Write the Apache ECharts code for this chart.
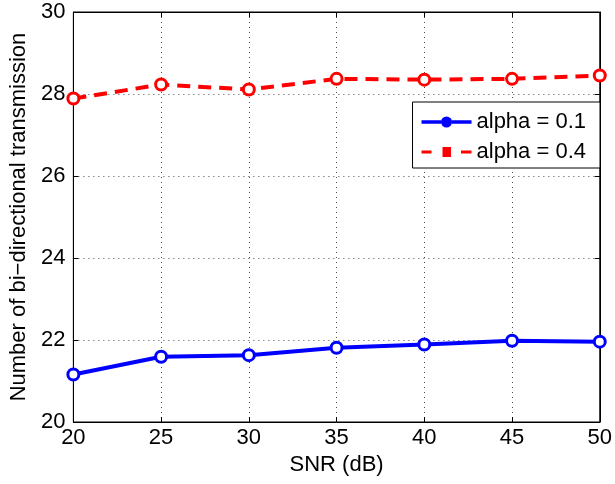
<!DOCTYPE html>
<html><head><meta charset="utf-8">
<script src="https://cdn.jsdelivr.net/npm/echarts@6/dist/echarts.min.js"></script>
<style>html,body{margin:0;padding:0;background:#fff}#c{width:615px;height:484px}</style>
</head><body><div id="c"></div>
<script>
const snr = [20, 25, 30, 35, 40, 45, 50];
const alpha01 = [21.16, 21.59, 21.63, 21.81, 21.89, 21.98, 21.96];
const alpha04 = [27.89, 28.23, 28.11, 28.37, 28.35, 28.37, 28.45];
const seriesNames = ['alpha = 0.1', 'alpha = 0.4'];
const xTitle = 'SNR (dB)';
const yTitle = 'Number of bi\u2212directional transmission';

const font = 'Liberation Sans, Arial, sans-serif';
const fs = 22;
const chart = echarts.init(document.getElementById('c'));
const pair = (xs, ys) => xs.map((x, i) => [x, ys[i]]);
const gridLine = {show: true, lineStyle: {color: '#000', type: [1, 4], width: 1, opacity: 0.7}};
const bboxPts = 'M0,0h0.05v0.05h-0.05z M49.95,13.95h0.05v0.05h-0.05z ';
const iconSolid = 'path://' + bboxPts + 'M0,5.2h19.6v3.6h-19.6z M30.4,5.2h19.6v3.6h-19.6z M19.5,7a5.5,5.5 0 1,0 11,0a5.5,5.5 0 1,0 -11,0z';
const iconDashed = 'path://' + bboxPts + 'M0,5.5h10v3h-10z M21,2h8.5v10h-8.5z M39.5,5.5h10.5v3h-10.5z';
chart.setOption({
  animation: false,
  backgroundColor: '#fff',
  grid: {left: 71, right: 14, top: 12, bottom: 62, show: true, borderColor: '#000', borderWidth: 1},
  xAxis: [{
    type: 'value', min: 20, max: 50, interval: 5,
    name: xTitle, nameLocation: 'middle', nameGap: 31,
    nameTextStyle: {fontFamily: font, fontSize: fs, color: '#000'},
    axisLine: {show: true, lineStyle: {color: '#000', width: 1}},
    axisTick: {show: true, inside: true, length: 5, lineStyle: {color: '#000'}},
    axisLabel: {fontFamily: font, fontSize: fs, color: '#000', margin: 5},
    splitLine: gridLine
  }, {
    type: 'value', min: 20, max: 50, interval: 5, position: 'top',
    axisLine: {show: true, lineStyle: {color: '#000'}},
    axisTick: {show: true, inside: true, length: 5, lineStyle: {color: '#000'}},
    axisLabel: {show: false}, splitLine: {show: false}
  }],
  yAxis: [{
    type: 'value', min: 20, max: 30, interval: 2,
    name: yTitle, nameLocation: 'middle', nameGap: 37,
    nameTextStyle: {fontFamily: font, fontSize: fs, color: '#000'},
    axisLine: {show: true, lineStyle: {color: '#000', width: 1}},
    axisTick: {show: true, inside: true, length: 5, lineStyle: {color: '#000'}},
    axisLabel: {fontFamily: font, fontSize: fs, color: '#000', margin: 8},
    splitLine: gridLine
  }, {
    type: 'value', min: 20, max: 30, interval: 2, position: 'right',
    axisLine: {show: true, lineStyle: {color: '#000'}},
    axisTick: {show: true, inside: true, length: 5, lineStyle: {color: '#000'}},
    axisLabel: {show: false}, splitLine: {show: false}
  }],
  legend: {
    right: 15, top: 102, orient: 'vertical',
    backgroundColor: '#fff', borderColor: '#000', borderWidth: 1,
    padding: [9, 14, 5, 9], itemGap: 8, itemWidth: 50, itemHeight: 14,
    textStyle: {fontFamily: font, fontSize: fs, color: '#000'},
    data: [
      {name: seriesNames[0], icon: iconSolid, itemStyle: {color: '#0000ff', borderWidth: 0}},
      {name: seriesNames[1], icon: iconDashed, itemStyle: {color: '#ff0000', borderWidth: 0}}
    ]
  },
  series: [{
    name: seriesNames[0], type: 'line', data: pair(snr, alpha01),
    symbol: 'circle', symbolSize: 11,
    lineStyle: {color: '#0000ff', width: 4},
    itemStyle: {color: '#fff', borderColor: '#0000ff', borderWidth: 3}
  }, {
    name: seriesNames[1], type: 'line', data: pair(snr, alpha04),
    symbol: 'circle', symbolSize: 11,
    lineStyle: {color: '#ff0000', width: 4, type: [13, 8]},
    itemStyle: {color: '#fff', borderColor: '#ff0000', borderWidth: 3}
  }]
});
</script></body></html>
